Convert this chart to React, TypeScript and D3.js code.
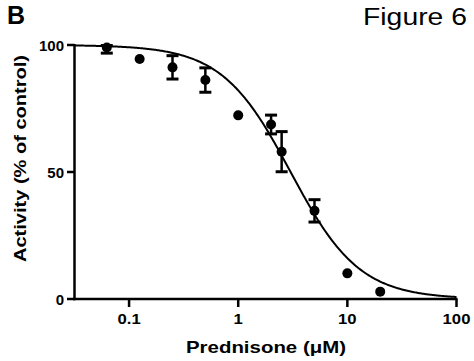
import React from "react";
import * as d3 from "d3";

const concentrations = [0.0625, 0.125, 0.25, 0.5, 1, 2, 2.5, 5, 10, 20];
const activity = [99, 94.5, 91.2, 86.2, 72.3, 68.7, 58, 34.7, 10.1, 2.9];
const semUp = [0.8, 0, 4.6, 4.8, 0, 3.7, 7.9, 4.4, 0, 0];
const semDown = [2.2, 0, 4.6, 4.8, 0, 3.7, 7.9, 4.4, 0, 0];
const xTicks = [0.1, 1, 10, 100];
const xTickLabels = ["0.1", "1", "10", "100"];
const yTicks = [0, 50, 100];
const yTickLabels = ["0", "50", "100"];
// fitted sigmoid parameters
const fitTop = 100;
const fitBottom = 0;
const fitLogIC50 = 0.48;
const fitHill = 1.38;

const W = 474;
const H = 361;

export default function App() {
  const x = d3.scaleLog().domain([Math.pow(10, -1.5), 100]).range([74.5, 456.5]);
  const y = d3.scaleLinear().domain([0, 100]).range([299, 45]);

  const curveX = d3.range(-1.5, 2.0001, 0.01).map((l) => Math.pow(10, l));
  const model = (c: number) =>
    fitBottom + (fitTop - fitBottom) / (1 + Math.pow(10, (Math.log10(c) - fitLogIC50) * fitHill));
  const line = d3
    .line<number>()
    .x((c) => x(c))
    .y((c) => y(model(c)))
    .curve(d3.curveLinear);

  const font = "'Liberation Sans', Arial, sans-serif";

  return (
    <svg
      width={W}
      height={H}
      viewBox={`0 0 ${W} ${H}`}
      style={{ position: "absolute", left: 0, top: 0, background: "#fff" }}
    >
      <rect x={0} y={0} width={W} height={H} fill="#fff" />
      <text x={7} y={24} fontFamily={font} fontWeight="bold" fontSize={25} fill="#000">
        B
      </text>
      <text
        x={363}
        y={25}
        fontFamily={font}
        fontSize={23}
        fill="#000"
        textLength={104}
        lengthAdjust="spacingAndGlyphs"
      >
        Figure 6
      </text>

      {/* axes */}
      <line x1={74.5} x2={74.5} y1={y(100) - 1} y2={y(0) + 1.25} stroke="#000" strokeWidth={2.5} />
      <line x1={73.25} x2={x(100) + 1} y1={y(0)} y2={y(0)} stroke="#000" strokeWidth={2.5} />
      {yTicks.map((t, i) => (
        <g key={"yt" + i}>
          <line x1={67} x2={74.5} y1={y(t)} y2={y(t)} stroke="#000" strokeWidth={2.5} />
          <text
            x={64}
            y={y(t) + 5.5}
            textAnchor="end"
            fontFamily={font}
            fontWeight="bold"
            fontSize={15}
            fill="#000"
          >
            {yTickLabels[i]}
          </text>
        </g>
      ))}
      {xTicks.map((t, i) => (
        <g key={"xt" + i}>
          <line x1={x(t)} x2={x(t)} y1={y(0)} y2={y(0) + 8} stroke="#000" strokeWidth={2.5} />
          <text
            transform={`translate(${x(t)},${324}) scale(1.15,1)`}
            textAnchor="middle"
            fontFamily={font}
            fontWeight="bold"
            fontSize={14.5}
            fill="#000"
          >
            {xTickLabels[i]}
          </text>
        </g>
      ))}
      <text
        x={186}
        y={353}
        fontFamily={font}
        fontWeight="bold"
        fontSize={16.5}
        fill="#000"
        textLength={160}
        lengthAdjust="spacingAndGlyphs"
      >
        Prednisone (μM)
      </text>
      <text
        transform={`translate(26,262) rotate(-90)`}
        fontFamily={font}
        fontWeight="bold"
        fontSize={17}
        fill="#000"
        textLength={207}
        lengthAdjust="spacingAndGlyphs"
      >
        Activity (% of control)
      </text>

      {/* fitted curve */}
      <path d={line(curveX) || ""} fill="none" stroke="#000" strokeWidth={2} />

      {/* error bars */}
      {concentrations.map((c, i) =>
        semUp[i] > 0 || semDown[i] > 0 ? (
          <g key={"eb" + i}>
            <line
              x1={x(c)}
              x2={x(c)}
              y1={y(activity[i] + semUp[i])}
              y2={y(activity[i] - semDown[i])}
              stroke="#000"
              strokeWidth={2.5}
            />
            <line
              x1={x(c) - 6}
              x2={x(c) + 6}
              y1={y(activity[i] + semUp[i])}
              y2={y(activity[i] + semUp[i])}
              stroke="#000"
              strokeWidth={3}
            />
            <line
              x1={x(c) - 6}
              x2={x(c) + 6}
              y1={y(activity[i] - semDown[i])}
              y2={y(activity[i] - semDown[i])}
              stroke="#000"
              strokeWidth={3}
            />
          </g>
        ) : null
      )}
      {/* points */}
      {concentrations.map((c, i) => (
        <circle key={"pt" + i} cx={x(c)} cy={y(activity[i])} r={5} fill="#000" />
      ))}
    </svg>
  );
}
